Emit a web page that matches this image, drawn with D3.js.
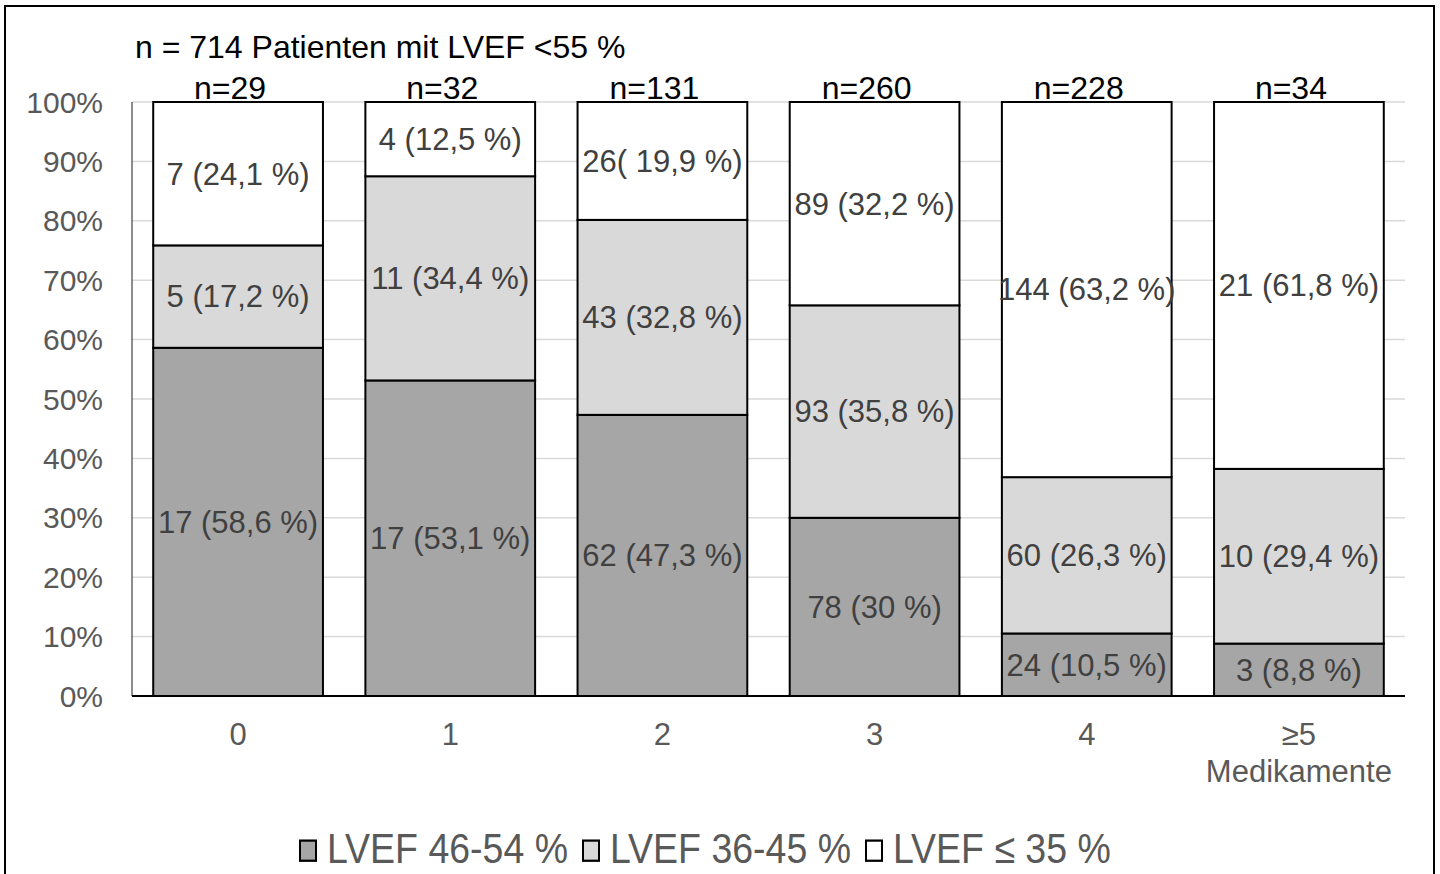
<!DOCTYPE html>
<html>
<head>
<meta charset="utf-8">
<script src="https://cdn.jsdelivr.net/npm/d3@7"></script>
<style>
  html, body { margin: 0; padding: 0; background: #fff; }
  svg { display: block; font-family: "Liberation Sans", Arial, sans-serif; }
</style>
</head>
<body>
<svg id="chart" width="1440" height="874"></svg>
<script>
// Number of medications per patient group
const categories = ["0", "1", "2", "3", "4", "≥5"];
const groupTotals = ["n=29", "n=32", "n=131", "n=260", "n=228", "n=34"];

// Patient counts per LVEF class (bottom to top of each stack)
const lvef46to54 = [17, 17, 62, 78, 24, 3];
const lvef36to45 = [5, 11, 43, 93, 60, 10];
const lvefLe35   = [7, 4, 26, 89, 144, 21];

// Segment labels as printed
const labels46to54 = ["17 (58,6 %)", "17 (53,1 %)", "62 (47,3 %)", "78 (30 %)", "24 (10,5 %)", "3 (8,8 %)"];
const labels36to45 = ["5 (17,2 %)", "11 (34,4 %)", "43 (32,8 %)", "93 (35,8 %)", "60 (26,3 %)", "10 (29,4 %)"];
const labelsLe35   = ["7 (24,1 %)", "4 (12,5 %)", "26( 19,9 %)", "89 (32,2 %)", "144 (63,2 %)", "21 (61,8 %)"];

const seriesNames = ["LVEF 46-54 %", "LVEF 36-45 %", "LVEF ≤ 35 %"];
const seriesColors = ["#a6a6a6", "#d9d9d9", "#ffffff"];
const yTicks = [0, 0.1, 0.2, 0.3, 0.4, 0.5, 0.6, 0.7, 0.8, 0.9, 1.0];
const title = "n = 714 Patienten mit LVEF <55 %";
const xSubLabel = "Medikamente";

const svg = d3.select("#chart");
const plot = { left: 132, right: 1405, top: 102, bottom: 696 };

// outer frame
svg.append("rect")
  .attr("x", 5).attr("y", 6).attr("width", 1429).attr("height", 880)
  .attr("fill", "none").attr("stroke", "#000").attr("stroke-width", 2);

const keys = ["a", "b", "c"];
const rows = categories.map((c, i) => ({
  cat: c, a: lvef46to54[i], b: lvef36to45[i], c: lvefLe35[i]
}));
const rowLabels = [labels46to54, labels36to45, labelsLe35];

const stacked = d3.stack().keys(keys).offset(d3.stackOffsetExpand)(rows);

const x = d3.scaleBand().domain(categories)
  .range([plot.left, plot.right]).paddingInner(0.2).paddingOuter(0.1);
const y = d3.scaleLinear().domain([0, 1]).range([plot.bottom, plot.top]);

// gridlines
svg.append("g")
  .selectAll("line").data(yTicks.filter(t => t > 0)).join("line")
  .attr("x1", plot.left).attr("x2", plot.right)
  .attr("y1", d => y(d)).attr("y2", d => y(d))
  .attr("stroke", "#d9d9d9").attr("stroke-width", 1.5);

// y axis labels
svg.append("g")
  .selectAll("text").data(yTicks).join("text")
  .attr("x", 103).attr("y", d => y(d))
  .attr("dy", "0.35em")
  .attr("text-anchor", "end")
  .attr("font-size", 30).attr("fill", "#595959")
  .text(d => d3.format(".0%")(d));

// vertical axis line
svg.append("line")
  .attr("x1", plot.left).attr("x2", plot.left)
  .attr("y1", plot.top).attr("y2", plot.bottom)
  .attr("stroke", "#404040").attr("stroke-width", 1.2);

// stacked bars
stacked.forEach((layer, si) => {
  svg.append("g")
    .selectAll("rect").data(layer).join("rect")
    .attr("x", d => x(d.data.cat))
    .attr("width", x.bandwidth())
    .attr("y", d => y(d[1]))
    .attr("height", d => y(d[0]) - y(d[1]))
    .attr("fill", seriesColors[si])
    .attr("stroke", "#000").attr("stroke-width", 2);
});

// x axis line
svg.append("line")
  .attr("x1", plot.left).attr("x2", plot.right)
  .attr("y1", plot.bottom).attr("y2", plot.bottom)
  .attr("stroke", "#000").attr("stroke-width", 2);

// segment labels
stacked.forEach((layer, si) => {
  svg.append("g")
    .selectAll("text").data(layer).join("text")
    .attr("x", d => x(d.data.cat) + x.bandwidth() / 2)
    .attr("y", d => y((d[0] + d[1]) / 2))
    .attr("dy", "0.35em")
    .attr("text-anchor", "middle")
    .attr("font-size", 31).attr("fill", "#404040")
    .text((d, i) => rowLabels[si][i]);
});

// group totals above bars
svg.append("g")
  .selectAll("text").data(categories).join("text")
  .attr("x", d => x(d) + x.bandwidth() / 2 - 8)
  .attr("y", 99)
  .attr("text-anchor", "middle")
  .attr("font-size", 32).attr("fill", "#000")
  .text((d, i) => groupTotals[i]);

// category labels
const xl = svg.append("g")
  .selectAll("text").data(categories).join("text")
  .attr("x", d => x(d) + x.bandwidth() / 2)
  .attr("y", 745)
  .attr("text-anchor", "middle")
  .attr("font-size", 31).attr("fill", "#595959");
xl.append("tspan").text(d => d);
xl.filter((d, i) => i === categories.length - 1)
  .append("tspan")
  .attr("x", d => x(d) + x.bandwidth() / 2)
  .attr("dy", 37)
  .text(xSubLabel);

// title
svg.append("text")
  .attr("x", 135).attr("y", 58)
  .attr("font-size", 32).attr("fill", "#000")
  .text(title);

// legend
const legend = svg.append("g").attr("transform", "translate(0,863) scale(1,1.12)");
let lx = 300;
seriesNames.forEach((name, i) => {
  legend.append("rect")
    .attr("x", lx).attr("y", -20).attr("width", 16).attr("height", 18)
    .attr("fill", seriesColors[i]).attr("stroke", "#000").attr("stroke-width", 2);
  const t = legend.append("text")
    .attr("x", lx + 27).attr("y", 0)
    .attr("font-size", 37.5).attr("fill", "#595959")
    .text(name);
  lx += 27 + t.node().getComputedTextLength() + 15;
});
</script>
</body>
</html>
